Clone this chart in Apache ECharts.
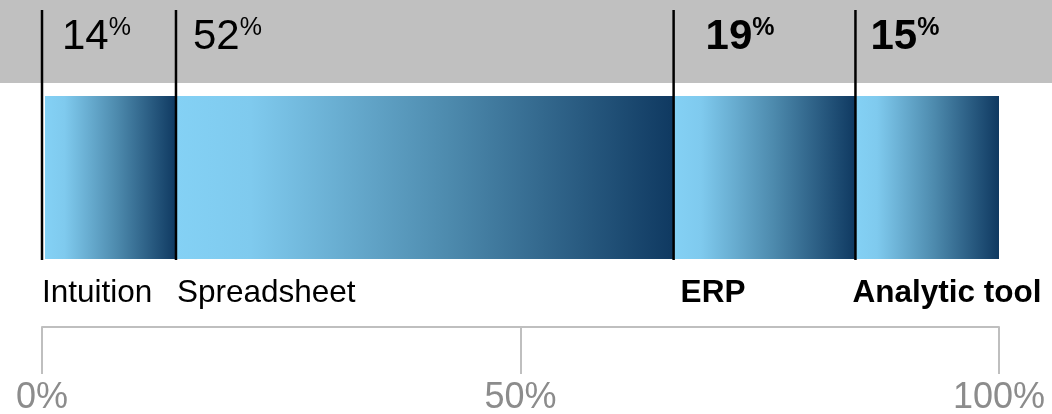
<!DOCTYPE html>
<html>
<head>
<meta charset="utf-8">
<script src="https://cdn.jsdelivr.net/npm/echarts@6/dist/echarts.min.js"></script>
<style>
  html, body { margin: 0; padding: 0; background: #fff; }
  #chart { width: 1052px; height: 414px; }
</style>
</head>
<body>
<div id="chart"></div>
<script>
// data
const categories = ['Intuition', 'Spreadsheet', 'ERP', 'Analytic tool'];
const shares = [14, 52, 19, 15];
const boldItems = [false, false, true, true];
const axisTicks = [0, 50, 100];

// layout tweaks (pixels), kept apart from the data
const pctShift = [20, 17, 32, 15];
const nameShift = [0, 1, 7, -3];
const FONT = '"Liberation Sans", Arial, Helvetica, sans-serif';

window.addEventListener('load', () => {
    const myChart = echarts.init(document.getElementById('chart'));

    // segments as [start, end, index]
    let acc = 0;
    const segs = shares.map((v, i) => {
        const s = acc;
        acc += v;
        return [s, acc, i];
    });

    function renderItem(params, api) {
        const i = api.value(2);
        const x0 = api.coord([api.value(0), 0])[0];
        const x1 = api.coord([api.value(1), 0])[0];
        const left = i === 0 ? x0 + 3 : x0;
        const weight = boldItems[i] ? 'bold' : 'normal';
        return {
            type: 'group',
            children: [
                {
                    type: 'rect',
                    shape: { x: left, y: 96, width: x1 - left, height: 163 },
                    style: {
                        fill: new echarts.graphic.LinearGradient(0, 0, 1, 0, [
                            { offset: 0, color: '#84d1f5' },
                            { offset: 0.15, color: '#7fcaee' },
                            { offset: 0.55, color: '#4d8aad' },
                            { offset: 1, color: '#0f3961' }
                        ])
                    }
                },
                {
                    type: 'line',
                    shape: { x1: x0, y1: 10, x2: x0, y2: 260 },
                    style: { stroke: '#000', lineWidth: 2.5 }
                },
                {
                    type: 'text',
                    x: x0 + pctShift[i],
                    y: 37,
                    style: {
                        text: '{n|' + shares[i] + '}{p|%}',
                        align: 'left',
                        verticalAlign: 'middle',
                        rich: {
                            n: { fontSize: 42, fontWeight: weight, fontFamily: FONT, color: '#000', lineHeight: 42 },
                            p: { fontSize: 25, fontWeight: weight, fontFamily: FONT, color: '#000', lineHeight: 30, verticalAlign: 'top' }
                        }
                    }
                },
                {
                    type: 'text',
                    x: x0 + nameShift[i],
                    y: 293,
                    style: {
                        text: categories[i],
                        align: 'left',
                        verticalAlign: 'middle',
                        fontSize: 31.5,
                        fontWeight: weight,
                        fontFamily: FONT,
                        fill: '#000'
                    }
                }
            ]
        };
    }

    const option = {
        animation: false,
        graphic: [
            {
                type: 'rect',
                z: 0,
                shape: { x: 0, y: 0, width: 1052, height: 83 },
                style: { fill: '#c0c0c0' }
            }
        ],
        grid: { left: 42, right: 53, top: 0, bottom: 87, outerBoundsMode: 'none' },
        xAxis: {
            type: 'value',
            min: axisTicks[0],
            max: axisTicks[axisTicks.length - 1],
            interval: axisTicks[1] - axisTicks[0],
            axisLine: { show: true, lineStyle: { color: '#bfbfbf', width: 2 } },
            axisTick: { show: true, length: 47, lineStyle: { color: '#bfbfbf', width: 2 } },
            splitLine: { show: false },
            axisLabel: {
                formatter: '{value}%',
                color: '#8c8c8c',
                fontSize: 36,
                fontFamily: FONT,
                margin: 53
            }
        },
        yAxis: { type: 'value', show: false, min: 0, max: 1 },
        series: [
            {
                type: 'custom',
                z: 10,
                renderItem: renderItem,
                encode: { x: [0, 1] },
                data: segs
            }
        ]
    };
    myChart.setOption(option);
});
</script>
</body>
</html>
